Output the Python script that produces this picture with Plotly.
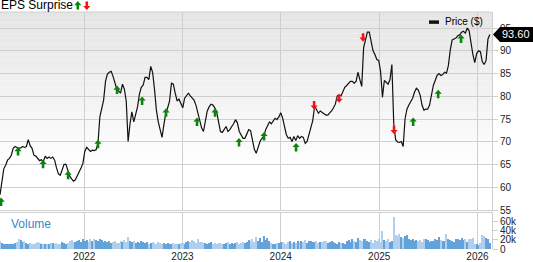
import pandas as pd
import plotly.graph_objects as go

# ---------------- data ----------------
week_start = "2021-02-22"

price = [
    58.4, 61.4, 64.1, 64.9, 66.0, 66.4, 67.1, 68.6, 69.0, 68.8,
    68.6, 68.7, 69.0, 68.8, 69.0, 70.5, 69.2, 68.6, 67.1, 66.9,
    66.4, 65.9, 66.1, 65.7, 66.9, 66.4, 66.7, 66.4, 66.7, 66.0,
    64.3, 63.0, 62.7, 63.8, 65.1, 65.1, 63.6, 62.5, 61.9, 61.4,
    61.7, 62.5, 63.6, 64.3, 65.3, 67.9, 68.8, 68.4, 67.9, 68.2,
    68.1, 68.3, 69.7, 75.5, 77.7, 79.2, 83.3, 84.9, 85.3, 85.5,
    84.4, 82.7, 81.6, 81.2, 80.7, 82.7, 81.6, 79.0, 70.1, 74.0,
    76.6, 74.4, 75.9, 77.7, 80.5, 82.0, 82.5, 84.2, 84.2, 83.7,
    86.6, 85.3, 81.6, 77.0, 74.4, 72.3, 71.0, 73.8, 76.4, 77.5,
    79.0, 82.9, 82.7, 80.7, 79.0, 79.4, 78.3, 77.5, 79.6, 80.1,
    80.7, 80.1, 79.6, 79.2, 78.1, 76.6, 74.7, 73.1, 72.3, 74.9,
    76.8, 77.7, 78.3, 78.1, 77.5, 76.6, 74.4, 72.3, 72.1, 72.9,
    73.4, 72.3, 72.7, 73.4, 74.0, 74.9, 74.2, 72.3, 71.6, 70.8,
    70.8, 71.8, 72.7, 72.5, 70.3, 68.4, 67.5, 69.0, 70.1, 70.8,
    71.2, 72.7, 73.4, 74.4, 74.0, 74.7, 75.2, 74.9, 75.5, 76.4,
    75.3, 73.4, 71.6, 70.8, 71.0, 70.1, 71.2, 70.3, 71.4, 70.8,
    71.2, 71.0, 69.7, 70.1, 71.6, 73.1, 74.7, 77.9, 77.0, 76.3,
    76.8, 76.4, 76.2, 75.9, 75.9, 76.4, 76.8, 77.5, 78.3, 80.1,
    80.3, 80.1, 81.1, 82.0, 82.4, 82.9, 83.3, 83.3, 82.9, 83.3,
    85.3, 83.7, 82.2, 90.7, 92.8, 94.1, 94.1, 91.8, 90.0, 89.2,
    88.1, 87.9, 85.5, 79.8, 83.5, 83.1, 82.7, 83.7, 87.0, 74.0,
    70.5, 70.0, 69.9, 70.1, 69.0, 75.1, 77.2, 78.1, 78.8, 79.6,
    80.9, 81.8, 81.4, 80.3, 78.1, 77.0, 77.2, 77.2, 78.1, 80.1,
    82.4, 83.5, 84.6, 85.0, 84.6, 84.8, 85.3, 85.1, 86.8, 90.2,
    92.4, 92.6, 92.8, 93.3, 93.5, 94.1, 94.3, 93.9, 95.0, 94.4,
    91.3, 89.2, 87.4, 89.4, 90.0, 89.8, 87.6, 87.0, 87.9, 92.6,
    93.6,
]

volume_k = [
    17, 12, 9, 10, 11, 9, 10, 11, 12, 14,
    20, 18, 15, 16, 13, 11, 12, 10, 11, 12,
    14, 12, 11, 10, 9, 11, 10, 12, 13, 11,
    12, 10, 11, 14, 12, 11, 13, 16, 18, 14,
    15, 17, 19, 14, 22, 16, 18, 15, 20, 17,
    21, 18, 16, 22, 19, 15, 17, 14, 16, 13,
    15, 17, 13, 12, 16, 14, 18, 15, 25, 17,
    14, 16, 12, 15, 13, 17, 14, 12, 15, 11,
    13, 15, 12, 11, 14, 12, 10, 13, 11, 12,
    11, 10, 12, 9, 11, 10, 12, 13, 11, 15,
    17, 14, 18, 16, 13, 20, 15, 14, 12, 13,
    11, 12, 14, 10, 12, 11, 13, 12, 10, 11,
    12, 14, 11, 13, 10, 12, 14, 11, 13, 15,
    12, 14, 18, 16, 21, 14, 26, 17, 24, 15,
    28, 19, 24, 16, 12, 10, 11, 13, 12, 14,
    15, 12, 11, 14, 16, 13, 15, 12, 16, 14,
    17, 15, 18, 13, 16, 17, 15, 14, 16, 13,
    15, 14, 17, 16, 12, 14, 16, 15, 13, 11,
    14, 12, 13, 11, 16, 18, 14, 20, 17, 15,
    24, 18, 16, 20, 22, 17, 15, 19, 13, 18,
    16, 20, 14, 38, 18, 16, 20, 15, 17, 69,
    30, 28, 32, 25, 24, 28, 30, 22, 18, 20,
    17, 19, 16, 18, 14, 21, 22, 18, 15, 17,
    16, 20, 18, 26, 19, 16, 17, 31, 22, 18,
    16, 15, 20, 21, 19, 23, 18, 20, 15, 22,
    20, 24, 9, 10, 8, 12, 29, 28, 24, 22,
    13,
]

eps_dates = [
    "2021-02-26", "2021-04-30", "2021-08-01", "2021-11-02", "2022-02-21",
    "2022-05-03", "2022-08-04", "2022-11-01", "2023-02-24", "2023-05-02",
    "2023-07-30", "2023-10-31", "2024-02-27", "2024-05-04", "2024-08-05",
    "2024-11-02", "2025-02-25", "2025-05-07", "2025-08-08", "2025-11-01",
]
eps_level = [
    56.8, 67.9, 65.1, 62.7, 69.5,
    81.4, 79.0, 76.4, 74.4, 76.4,
    69.9, 71.2, 68.8, 78.1, 79.6,
    93.0, 72.7, 74.4, 80.5, 92.6,
]
eps_beat = [
    True, True, True, True, True,
    True, True, True, True, True,
    True, True, True, False, False,
    False, False, True, True, True,
]

x_range = ["2021-02-22", "2026-02-24"]
price_ticks = [55, 60, 65, 70, 75, 80, 85, 90, 95]
vol_ticks = [0, 20, 40, 60]
vol_tick_text = ["0", "20k", "40k", "60k"]
last_label = "93.60"

# ---------------- styling ----------------
FONT = "Arial, 'Liberation Sans', sans-serif"
GREEN = "#0a840a"
RED = "#f01414"
GRID = "#cfcfcf"
UP_PATH = "M0,4.5 L3.6,0.4 L1.3,0.4 L1.3,-4 L-1.3,-4 L-1.3,0.4 L-3.6,0.4 Z"
DOWN_PATH = "M0,-4.5 L3.6,-0.4 L1.3,-0.4 L1.3,4 L-1.3,4 L-1.3,-0.4 L-3.6,-0.4 Z"

dates = pd.date_range(week_start, periods=len(price), freq="7D")

bar_colors = []
for i in range(len(price)):
    up = i > 0 and price[i] >= price[i - 1]
    bar_colors.append("#64a3da" if up else "#b0cfec")

fig = go.Figure()
fig.add_trace(go.Scatter(
    x=dates, y=price, mode="lines",
    line=dict(color="#111111", width=1.2),
    xaxis="x", yaxis="y", showlegend=False, hoverinfo="skip",
))
fig.add_trace(go.Bar(
    x=dates, y=volume_k, marker=dict(color=bar_colors, line=dict(width=0)),
    width=4.0 * 24 * 3600 * 1000,
    xaxis="x", yaxis="y2", showlegend=False, hoverinfo="skip",
))

shapes = []
# background gradient of the price panel
n_band = 30
top_p, bot_p = 1.0, 0.33
for k in range(n_band):
    t = k / (n_band - 1)
    g = int(round(229 + (255 - 229) * t))
    y1 = top_p - (top_p - bot_p) * k / n_band
    y0 = top_p - (top_p - bot_p) * (k + 1) / n_band
    shapes.append(dict(type="rect", xref="paper", yref="paper", x0=0, x1=1,
                       y0=y0, y1=y1, fillcolor=f"rgb({g},{g},{g})",
                       line=dict(width=0), layer="below"))

# panel borders
shapes.append(dict(type="line", xref="paper", yref="paper", x0=0, x1=1, y0=1, y1=1,
                   line=dict(color=GRID, width=1)))
shapes.append(dict(type="line", xref="paper", yref="paper", x0=0, x1=1, y0=0.1542, y1=0.1542,
                   line=dict(color=GRID, width=1)))

# earnings arrows
for d, lv, beat in zip(eps_dates, eps_level, eps_beat):
    shapes.append(dict(type="path", xref="x", yref="y",
                       xsizemode="pixel", ysizemode="pixel",
                       xanchor=d, yanchor=lv,
                       path=UP_PATH if beat else DOWN_PATH,
                       fillcolor=GREEN if beat else RED, line=dict(width=0)))

# title arrows
shapes.append(dict(type="path", xref="paper", yref="paper", xsizemode="pixel", ysizemode="pixel",
                   xanchor=77.8 / 492, yanchor=1 + 6.5 / 240, path=UP_PATH,
                   fillcolor=GREEN, line=dict(width=0)))
shapes.append(dict(type="path", xref="paper", yref="paper", xsizemode="pixel", ysizemode="pixel",
                   xanchor=86.8 / 492, yanchor=1 + 6.5 / 240, path=DOWN_PATH,
                   fillcolor=RED, line=dict(width=0)))

# legend swatch
shapes.append(dict(type="rect", xref="paper", yref="paper", x0=429 / 492, x1=439 / 492,
                   y0=(252 - 24) / 240, y1=(252 - 20.5) / 240,
                   fillcolor="#111111", line=dict(width=0)))

# last value tag
shapes.append(dict(type="path", xref="paper", yref="y", xsizemode="pixel", ysizemode="pixel",
                   xanchor=1, yanchor=price[-1],
                   path="M1,0 L8,7.5 L46,7.5 L46,-7.5 L8,-7.5 Z",
                   fillcolor="#000000", line=dict(width=0)))

annotations = [
    dict(text="EPS Surprise", xref="paper", yref="paper", x=0, y=1, xanchor="left",
         yanchor="bottom", showarrow=False, font=dict(family=FONT, size=12, color="#000"),
         xshift=-1, yshift=-2.5),
    dict(text="Price ($)", xref="paper", yref="paper", x=443 / 492, y=(252 - 22) / 240,
         xanchor="left", yanchor="middle", showarrow=False,
         font=dict(family=FONT, size=10, color="#000")),
    dict(text="Volume", xref="paper", yref="paper", x=9 / 492, y=(252 - 227) / 240,
         xanchor="left", yanchor="middle", showarrow=False,
         font=dict(family=FONT, size=12, color="#3b88c9")),
    dict(text=last_label, xref="paper", yref="y", x=1, y=price[-1], xanchor="left",
         yanchor="middle", xshift=8, showarrow=False,
         font=dict(family=FONT, size=11, color="#ffffff")),
]

fig.update_layout(
    width=533, height=262,
    margin=dict(l=0, r=41, t=12, b=10),
    paper_bgcolor="white", plot_bgcolor="rgba(0,0,0,0)",
    bargap=0,
    shapes=shapes, annotations=annotations,
    xaxis=dict(type="date", range=x_range, anchor="y2",
               tick0="2022-01-01", dtick="M12", tickformat="%Y",
               showgrid=True, gridcolor=GRID, gridwidth=1, ticks="",
               showline=False, zeroline=False,
               tickfont=dict(family=FONT, size=10, color="#222")),
    yaxis=dict(domain=[0.1583, 1], range=[54.74, 98.53], side="right", anchor="x",
               tickvals=price_ticks, showgrid=True, gridcolor=GRID, gridwidth=1,
               ticks="outside", ticklen=5, tickcolor=GRID, showline=True,
               linecolor=GRID, zeroline=False,
               tickfont=dict(family=FONT, size=10, color="#222")),
    yaxis2=dict(domain=[0, 0.1542], range=[0, 80], side="right", anchor="x",
                tickvals=vol_ticks, ticktext=vol_tick_text, showgrid=False,
                ticks="outside", ticklen=5, tickcolor=GRID, showline=True,
                linecolor=GRID, zeroline=False,
                tickfont=dict(family=FONT, size=10, color="#222")),
)

fig.write_html("out.html")
